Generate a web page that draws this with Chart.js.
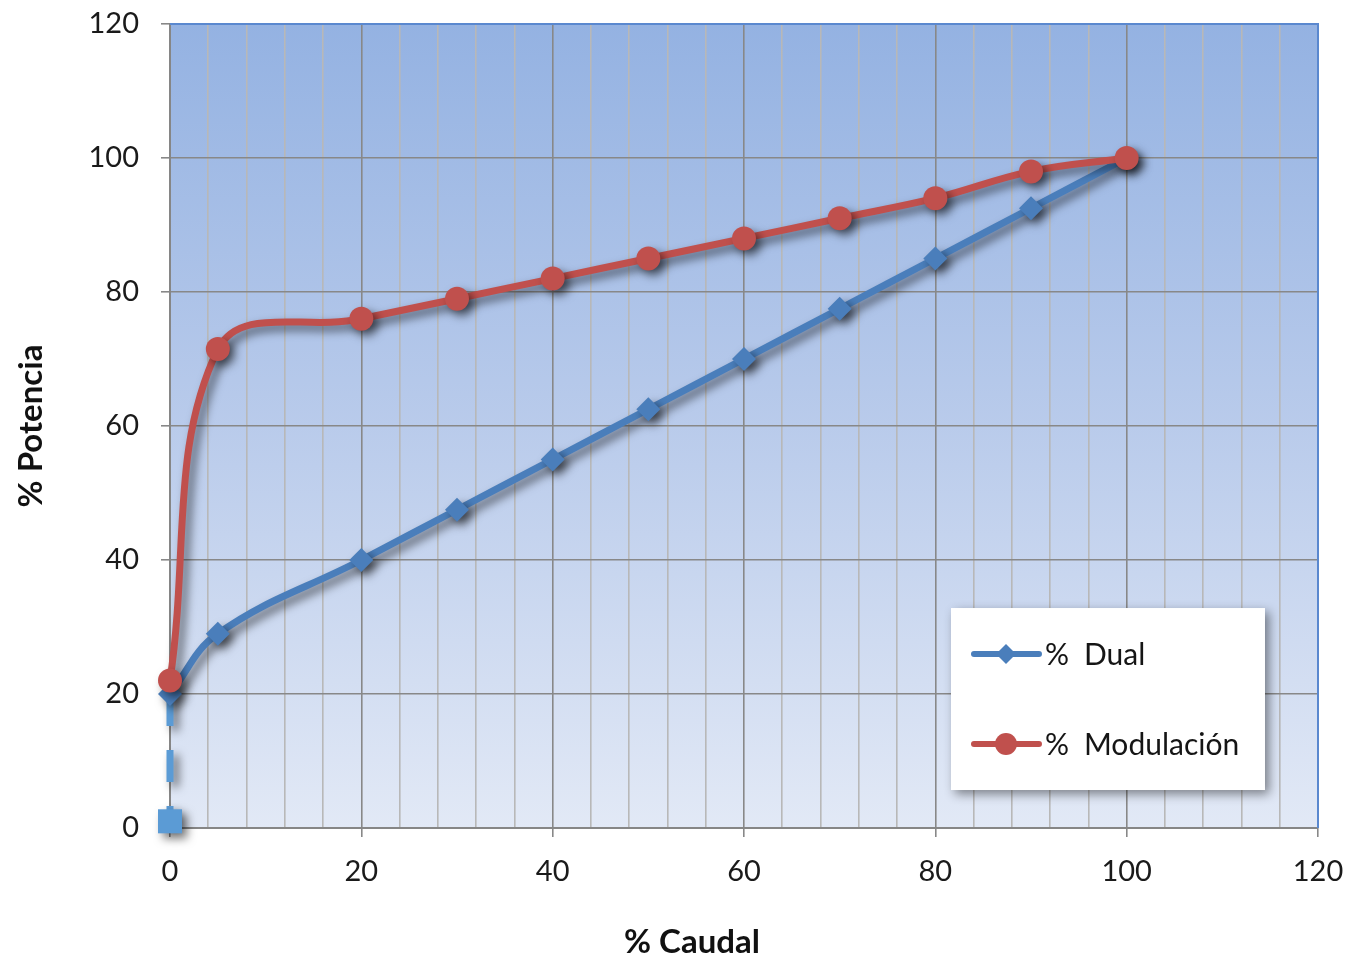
<!DOCTYPE html>
<html lang="es">
<head>
<meta charset="UTF-8">
<title>% Potencia vs % Caudal</title>
<style>
  body { margin: 0; background: #fff; font-family: Lato, "Open Sans", sans-serif; }
  .wrap { position: relative; width: 1349px; height: 959px; }
  canvas { display: block; }
  .x-title {
    position: absolute; left: 692px; top: 920px; transform: translateX(-50%);
    font: bold 33px Lato, sans-serif; color: #111; white-space: nowrap;
  }
</style>
<script src="https://cdn.jsdelivr.net/npm/chart.js"></script>
</head>
<body>
<div class="wrap">
  <canvas id="potencia" width="1349" height="959"></canvas>
  <div class="x-title">% Caudal</div>
</div>
<script>
// data
const caudal = [0, 5, 20, 30, 40, 50, 60, 70, 80, 90, 100];
const dual = [20, 29, 40, 47.5, 55, 62.5, 70, 77.5, 85, 92.5, 100];
const modulacion = [22, 71.5, 76, 79, 82, 85, 88, 91, 94, 98, 100];
// dashed drop from the first Dual point down to the axis
const arranqueX = [0, 0];
const arranqueY = [20, 1];

const seriesLabels = ['% Dual', '% Modulación'];

const toPoints = (xs, ys) => xs.map((x, i) => ({ x: x, y: ys[i] }));

// gradient behind the plot
const plotBackground = {
    id: 'plotBackground',
    beforeDraw(chart) {
        const a = chart.chartArea, c = chart.ctx;
        const g = c.createLinearGradient(0, a.top, 0, a.bottom);
        g.addColorStop(0, '#94b2e2');
        g.addColorStop(0.5, '#b9cbeb');
        g.addColorStop(1, '#e2e9f6');
        c.save();
        c.fillStyle = g;
        c.fillRect(a.left, a.top, a.right - a.left, a.bottom - a.top);
        c.restore();
    },
    beforeDatasetsDraw(chart) {
        // blue frame on top and right
        const a = chart.chartArea, c = chart.ctx;
        c.save();
        c.strokeStyle = '#5a88cf';
        c.lineWidth = 2;
        c.beginPath();
        c.moveTo(a.left, a.top);
        c.lineTo(a.right, a.top);
        c.lineTo(a.right, a.bottom);
        c.stroke();
        c.restore();
    }
};

// soft shadow under the lines
const lineShadow = {
    id: 'lineShadow',
    beforeDatasetDraw(chart) {
        const c = chart.ctx;
        c.save();
        c.shadowColor = 'rgba(0,0,0,0.55)';
        c.shadowBlur = 10;
        c.shadowOffsetX = 5;
        c.shadowOffsetY = 5;
    },
    afterDatasetDraw(chart) {
        chart.ctx.restore();
    }
};

function drawMarker(c, style, x, y, r) {
    c.beginPath();
    if (style === 'rectRot') {
        c.moveTo(x, y - r);
        c.lineTo(x + r, y);
        c.lineTo(x, y + r);
        c.lineTo(x - r, y);
        c.closePath();
    } else {
        c.arc(x, y, r, 0, Math.PI * 2);
    }
    c.fill();
}

// boxed legend inside the plot, bottom right
const boxLegend = {
    id: 'boxLegend',
    afterDraw(chart) {
        const a = chart.chartArea, c = chart.ctx;
        const w = a.right - a.left, h = a.bottom - a.top;
        const bx = a.left + 0.6803 * w, by = a.top + 0.7264 * h;
        const bw = 314, bh = 182;
        c.save();
        c.shadowColor = 'rgba(0,0,0,0.45)';
        c.shadowBlur = 10;
        c.shadowOffsetX = 4;
        c.shadowOffsetY = 4;
        c.fillStyle = '#ffffff';
        c.fillRect(bx, by, bw, bh);
        c.restore();

        const items = chart.data.datasets.filter(d => seriesLabels.includes(d.label));
        items.sort((p, q) => seriesLabels.indexOf(p.label) - seriesLabels.indexOf(q.label));
        items.forEach((d, i) => {
            const y = by + 46 + i * 90;
            c.save();
            c.strokeStyle = d.borderColor;
            c.lineWidth = 6;
            c.lineCap = 'round';
            c.beginPath();
            c.moveTo(bx + 23, y);
            c.lineTo(bx + 88, y);
            c.stroke();
            c.fillStyle = d.borderColor;
            drawMarker(c, d.pointStyle, bx + 55, y, d.pointStyle === 'rectRot' ? 10 : 11);
            c.fillStyle = '#151515';
            c.font = '30px Lato, sans-serif';
            c.textBaseline = 'middle';
            const [pct, ...rest] = d.label.split(' ');
            c.fillText(pct, bx + 94, y + 1);
            c.fillText(rest.join(' '), bx + 133, y + 1);
            c.restore();
        });
    }
};

const ctx = document.getElementById('potencia').getContext('2d');
new Chart(ctx, {
    type: 'line',
    data: {
        datasets: [
            {
                label: '% Modulación',
                data: toPoints(caudal, modulacion),
                borderColor: '#c0504d',
                backgroundColor: '#c0504d',
                borderWidth: 7,
                pointStyle: 'circle',
                pointRadius: 12,
                pointBorderWidth: 0,
                tension: 0.4,
                clip: false,
                order: 1
            },
            {
                label: '% Dual',
                data: toPoints(caudal, dual),
                borderColor: '#4a7ebb',
                backgroundColor: '#4a7ebb',
                borderWidth: 7,
                pointStyle: 'rectRot',
                pointRadius: 12,
                pointBorderWidth: 0,
                tension: 0.4,
                clip: false,
                order: 2
            },
            {
                label: 'arranque',
                data: toPoints(arranqueX, arranqueY),
                borderColor: '#5b9bd5',
                backgroundColor: '#5b9bd5',
                borderWidth: 7,
                borderDash: [32, 24],
                pointStyle: 'rect',
                pointRadius: [0, 17],
                pointBorderWidth: 0,
                clip: false,
                order: 3
            }
        ]
    },
    options: {
        responsive: false,
        animation: false,
        layout: { padding: { top: 24, right: 31, left: 0, bottom: 0 } },
        plugins: {
            legend: { display: false },
            tooltip: { enabled: false }
        },
        scales: {
            x: {
                type: 'linear',
                min: 0,
                max: 120,
                afterFit(scale) {
                    scale.height = 131;
                    scale.paddingLeft = 0;
                    scale.paddingRight = 0;
                },
                border: { color: '#868686', width: 2 },
                grid: {
                    color: c => (c.tick.value % 20 === 0 ? '#888888' : '#b8b8b8'),
                    tickColor: c => (c.tick.value % 20 === 0 ? '#888888' : 'rgba(0,0,0,0)'),
                    lineWidth: 1.6,
                    tickLength: 9
                },
                ticks: {
                    stepSize: 4,
                    autoSkip: false,
                    maxRotation: 0,
                    padding: 17,
                    color: '#1a1a1a',
                    font: { family: 'Lato, sans-serif', size: 29 },
                    callback: v => (v % 20 === 0 ? v : '')
                }
            },
            y: {
                min: 0,
                max: 120,
                afterFit(scale) {
                    scale.width = 170;
                    scale.paddingTop = 0;
                    scale.paddingBottom = 0;
                },
                border: { color: '#868686', width: 2 },
                grid: {
                    color: '#888888',
                    tickColor: '#888888',
                    lineWidth: 1.6,
                    tickLength: 9
                },
                ticks: {
                    stepSize: 20,
                    padding: 22,
                    color: '#1a1a1a',
                    font: { family: 'Lato, sans-serif', size: 29 }
                },
                title: {
                    display: true,
                    text: '% Potencia',
                    color: '#111',
                    font: { family: 'Lato, sans-serif', size: 33, weight: 'bold' },
                    padding: { top: 12, bottom: 0 }
                }
            }
        }
    },
    plugins: [plotBackground, lineShadow, boxLegend]
});
</script>
</body>
</html>
